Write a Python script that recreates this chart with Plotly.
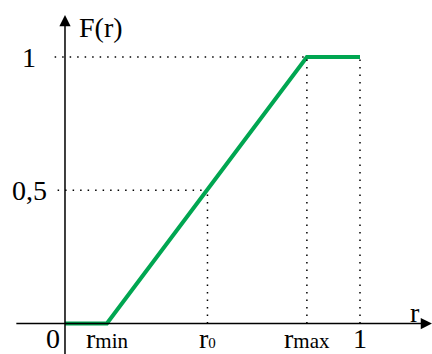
import plotly.graph_objects as go

# Data
r_min, r0, r_max = 0.142, 0.483, 0.82
r_points = [0, r_min, r_max, 1]
F_points = [0, 0, 1, 1]
y_ticks = [1, 0.5]
y_tick_labels = ["1", "0,5"]
x_ticks = [r_min, r0, r_max, 1]
x_tick_labels = ["r<span style='font-size:21px'>min</span>",
                 "r<span style='font-size:15px'>0</span>",
                 "r<span style='font-size:21px'>max</span>", "1"]

FONT = "Liberation Serif, Times New Roman, serif"
GREEN = "#00A651"
FS = 28

fig = go.Figure()
fig.add_trace(go.Scatter(x=r_points, y=F_points, mode="lines",
                         line=dict(color=GREEN, width=4), hoverinfo="skip"))

shapes = []
dot = dict(color="black", width=1.5, dash="1.5px,6px")
# horizontal dotted guides
shapes.append(dict(type="line", x0=-0.035, x1=r_max, y0=1, y1=1, line=dot))
shapes.append(dict(type="line", x0=-0.025, x1=r0, y0=0.5, y1=0.5, line=dot))
# vertical dotted guides
shapes.append(dict(type="line", x0=r_max, x1=r_max, y0=0, y1=1, line=dot))
shapes.append(dict(type="line", x0=1, x1=1, y0=0, y1=1, line=dot))
shapes.append(dict(type="line", x0=r0, x1=r0, y0=0, y1=0.5, line=dot))

annotations = []
# axes with arrows
annotations.append(dict(x=1.244, y=0, ax=-0.17, ay=0, xref="x", yref="y", axref="x", ayref="y",
                        text="", showarrow=True, arrowhead=2, arrowsize=1.5, arrowwidth=1.5,
                        arrowcolor="black"))
annotations.append(dict(x=0, y=1.158, ax=0, ay=-0.12, xref="x", yref="y", axref="x", ayref="y",
                        text="", showarrow=True, arrowhead=2, arrowsize=1.5, arrowwidth=1.5,
                        arrowcolor="black"))
# axis titles
annotations.append(dict(x=0.04, y=1.112, xref="x", yref="y", text="F(r)", showarrow=False,
                        xanchor="left", yanchor="middle", font=dict(family=FONT, size=FS, color="black")))
annotations.append(dict(x=1.185, y=0.04, xref="x", yref="y", text="r", showarrow=False,
                        xanchor="center", yanchor="middle", font=dict(family=FONT, size=FS, color="black")))
# y tick labels
for v, t in zip(y_ticks, y_tick_labels):
    annotations.append(dict(x=-0.122, y=v, xref="x", yref="y", text=t, showarrow=False,
                            xanchor="center", yanchor="middle", font=dict(family=FONT, size=FS, color="black")))
# origin label
annotations.append(dict(x=-0.04, y=-0.057, xref="x", yref="y", text="0", showarrow=False,
                        xanchor="center", yanchor="middle", font=dict(family=FONT, size=FS, color="black")))
# x tick labels
for v, t in zip(x_ticks, x_tick_labels):
    annotations.append(dict(x=v, y=-0.057, xref="x", yref="y", text=t, showarrow=False,
                            xanchor="center", yanchor="middle", font=dict(family=FONT, size=FS, color="black")))

fig.update_layout(
    width=432, height=354,
    margin=dict(l=0, r=0, t=0, b=0),
    paper_bgcolor="white", plot_bgcolor="white",
    showlegend=False,
    font=dict(family=FONT),
    xaxis=dict(range=[-0.2203, 1.2441], visible=False, fixedrange=True),
    yaxis=dict(range=[-0.1144, 1.2139], visible=False, fixedrange=True),
    shapes=shapes, annotations=annotations,
)

fig.write_html("out.html", config={"displayModeBar": False},
               post_script="document.body.style.margin='0';document.body.style.overflow='hidden';")
